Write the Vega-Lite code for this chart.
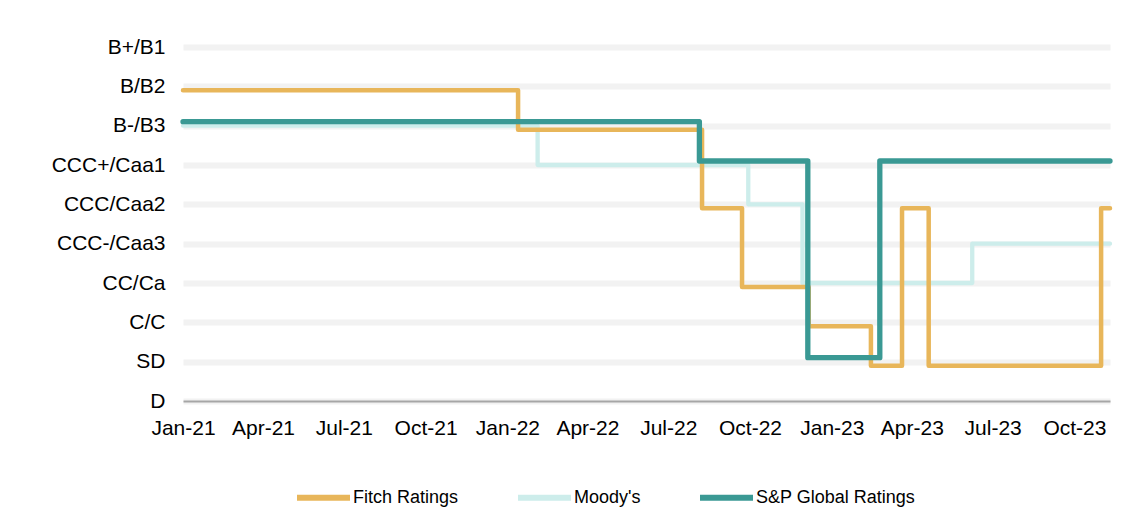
{
  "$schema": "https://vega.github.io/schema/vega-lite/v6.json",
  "width": 927,
  "height": 354,
  "autosize": {"type": "none"},
  "padding": {"left": 183, "top": 47, "right": 15, "bottom": 130},
  "background": "white",
  "config": {
    "view": {"stroke": null},
    "font": "Liberation Sans",
    "axis": {"labelFont": "Liberation Sans", "labelColor": "black"},
    "legend": {"labelFont": "Liberation Sans"}
  },
  "data": {
    "values": [
      {"agency": "Fitch Ratings", "date": "2021-01-01T00:00:00", "level": 8},
      {"agency": "Fitch Ratings", "date": "2022-01-13T00:00:00", "level": 7},
      {"agency": "Fitch Ratings", "date": "2022-08-08T00:00:00", "level": 5},
      {"agency": "Fitch Ratings", "date": "2022-09-22T00:00:00", "level": 3},
      {"agency": "Fitch Ratings", "date": "2022-12-06T00:00:00", "level": 2},
      {"agency": "Fitch Ratings", "date": "2023-02-14T00:00:00", "level": 1},
      {"agency": "Fitch Ratings", "date": "2023-03-21T00:00:00", "level": 5},
      {"agency": "Fitch Ratings", "date": "2023-04-20T00:00:00", "level": 1},
      {"agency": "Fitch Ratings", "date": "2023-10-31T00:00:00", "level": 5},
      {"agency": "Fitch Ratings", "date": "2023-11-10T00:00:00", "level": 5},
      {"agency": "Moody's", "date": "2021-01-01T00:00:00", "level": 7},
      {"agency": "Moody's", "date": "2022-02-04T00:00:00", "level": 6},
      {"agency": "Moody's", "date": "2022-09-29T00:00:00", "level": 5},
      {"agency": "Moody's", "date": "2022-11-29T00:00:00", "level": 3},
      {"agency": "Moody's", "date": "2023-06-08T00:00:00", "level": 4},
      {"agency": "Moody's", "date": "2023-11-10T00:00:00", "level": 4},
      {"agency": "S&P Global Ratings", "date": "2021-01-01T00:00:00", "level": 7},
      {"agency": "S&P Global Ratings", "date": "2022-08-05T00:00:00", "level": 6},
      {"agency": "S&P Global Ratings", "date": "2022-12-05T00:00:00", "level": 1},
      {"agency": "S&P Global Ratings", "date": "2023-02-24T00:00:00", "level": 6},
      {"agency": "S&P Global Ratings", "date": "2023-11-10T00:00:00", "level": 6}
    ]
  },
  "encoding": {
    "x": {
      "field": "date",
      "type": "temporal",
      "scale": {"domain": [{"year": 2021, "month": 1, "date": 1}, {"year": 2023, "month": 11, "date": 10}]},
      "axis": {
        "title": null,
        "format": "%b-%y",
        "values": [
          {"year": 2021, "month": 1, "date": 1}, {"year": 2021, "month": 4, "date": 1},
          {"year": 2021, "month": 7, "date": 1}, {"year": 2021, "month": 10, "date": 1},
          {"year": 2022, "month": 1, "date": 1}, {"year": 2022, "month": 4, "date": 1},
          {"year": 2022, "month": 7, "date": 1}, {"year": 2022, "month": 10, "date": 1},
          {"year": 2023, "month": 1, "date": 1}, {"year": 2023, "month": 4, "date": 1},
          {"year": 2023, "month": 7, "date": 1}, {"year": 2023, "month": 10, "date": 1}
        ],
        "grid": false,
        "ticks": false,
        "tickSize": 0,
        "labelFontSize": 21,
        "labelPadding": 16,
        "labelFlush": false,
        "labelOverlap": false,
        "domainColor": "#A6A6A6",
        "domainWidth": 2
      }
    },
    "y": {
      "field": "level",
      "type": "quantitative",
      "scale": {"domain": [0, 9], "nice": false, "zero": false},
      "axis": {
        "title": null,
        "values": [0, 1, 2, 3, 4, 5, 6, 7, 8, 9],
        "labelExpr": "['D','SD','C/C','CC/Ca','CCC-/Caa3','CCC/Caa2','CCC+/Caa1','B-/B3','B/B2','B+/B1'][datum.value]",
        "domain": false,
        "ticks": false,
        "tickSize": 0,
        "labelFontSize": 21,
        "labelPadding": 18,
        "labelFlush": false,
        "gridColor": "#F2F2F2",
        "gridWidth": 6
      }
    },
    "color": {
      "field": "agency",
      "type": "nominal",
      "scale": {
        "domain": ["Fitch Ratings", "Moody's", "S&P Global Ratings"],
        "range": ["#E8B65A", "#CDEDEB", "#3A9994"]
      },
      "legend": {
        "title": null,
        "orient": "none",
        "direction": "horizontal",
        "legendX": 111,
        "legendY": 421,
        "symbolType": "stroke",
        "symbolSize": 2809,
        "symbolStrokeWidth": 6,
        "labelFontSize": 18,
        "labelColor": "black",
        "labelOffset": 0,
        "columnPadding": 47
      }
    }
  },
  "layer": [
    {
      "transform": [{"filter": "datum.agency === \"Moody's\""}],
      "mark": {"type": "line", "interpolate": "step-after", "strokeWidth": 4.3, "strokeCap": "round", "strokeJoin": "round", "yOffset": 0}
    },
    {
      "transform": [{"filter": "datum.agency === 'Fitch Ratings'"}],
      "mark": {"type": "line", "interpolate": "step-after", "strokeWidth": 4.5, "strokeCap": "round", "strokeJoin": "round", "yOffset": 4}
    },
    {
      "transform": [{"filter": "datum.agency === 'S&P Global Ratings'"}],
      "mark": {"type": "line", "interpolate": "step-after", "strokeWidth": 5.3, "strokeCap": "round", "strokeJoin": "round", "yOffset": -4}
    }
  ]
}
